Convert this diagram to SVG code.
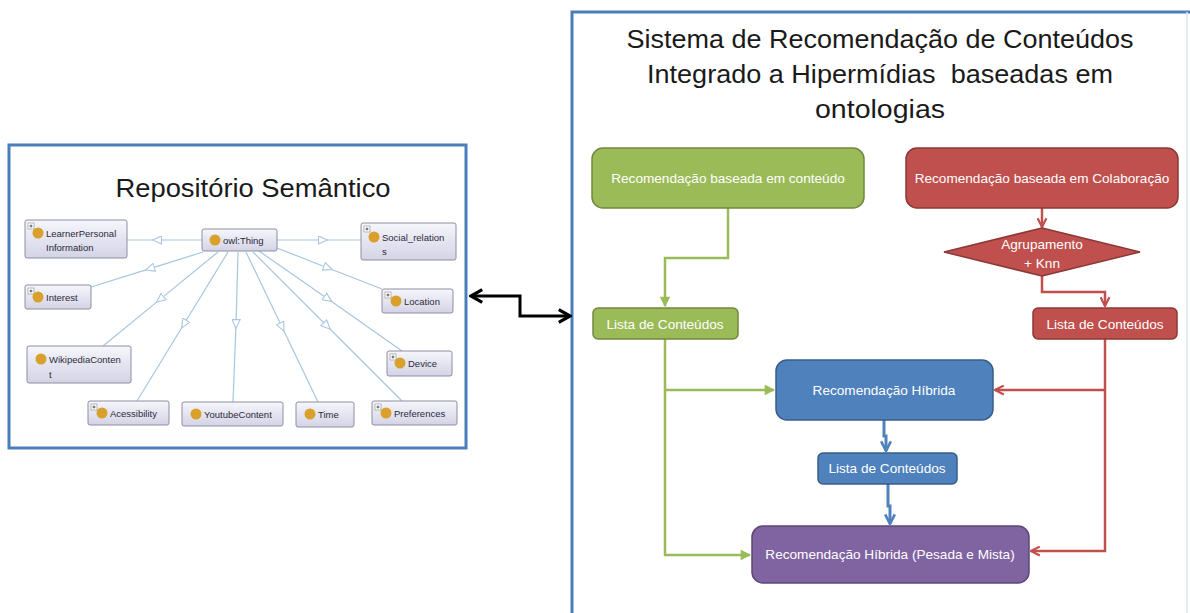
<svg xmlns="http://www.w3.org/2000/svg" width="1190" height="613" viewBox="0 0 1190 613">
  <style>
    .panel { fill: #ffffff; stroke: #4a7ebb; stroke-width: 3; }
    .title { font-family: "Liberation Sans", Arial, sans-serif; fill: #1a1a1a; white-space: pre; }
    .onode rect.box { fill: url(#nodeGrad); stroke: #8e8ea2; stroke-width: 1; }
    .onode text { font-family: "Liberation Sans", Arial, sans-serif; font-size: 9.5px; fill: #2a2a3a; }
    .dot { fill: #d9a12c; }
    .plus rect { fill: #ffffff; stroke: #8a8a8a; stroke-width: 0.6; }
    .plus path { stroke: #333; stroke-width: 0.8; }
    .oedge { fill: none; stroke: #a7c6e0; stroke-width: 1.2; marker-mid: url(#hollow); }
    .flow text { font-family: "Liberation Sans", Arial, sans-serif; font-size: 13.6px; fill: #ffffff; text-anchor: middle; }
    .g rect, .g path { fill: #9bbb59; stroke: #71893f; stroke-width: 1.5; }
    .r rect, .r path { fill: #c0504d; stroke: #8c3836; stroke-width: 1.5; }
    .b rect { fill: #4f81bd; stroke: #385d8a; stroke-width: 1.5; }
    .p rect { fill: #8064a2; stroke: #5c4776; stroke-width: 1.5; }
    .lg { fill: none; stroke: #9bbb59; stroke-width: 2.5; }
    .lr { fill: none; stroke: #c0504d; stroke-width: 2.5; }
    .lb { fill: none; stroke: #4f81bd; stroke-width: 3; }
    .lk { fill: none; stroke: #000000; stroke-width: 3; }
  </style>
  <defs>
    <linearGradient id="nodeGrad" x1="0" y1="0" x2="0" y2="1">
      <stop offset="0" stop-color="#f6f6fc"/>
      <stop offset="1" stop-color="#d3d3e6"/>
    </linearGradient>
    <marker id="hollow" viewBox="0 0 10 10" refX="5" refY="5" markerWidth="10" markerHeight="9" markerUnits="userSpaceOnUse" orient="auto">
      <path d="M0,0.5 L10,5 L0,9.5 z" fill="#ffffff" stroke="#a7c6e0" stroke-width="1.2"/>
    </marker>
    <marker id="aG" viewBox="0 0 10 10" refX="9" refY="5" markerWidth="11" markerHeight="11" markerUnits="userSpaceOnUse" orient="auto">
      <path d="M1,1 L9,5 L1,9 z" fill="#9bbb59" stroke="#9bbb59" stroke-width="1"/>
    </marker>
    <marker id="aR" viewBox="0 0 10 10" refX="9" refY="5" markerWidth="11" markerHeight="11" markerUnits="userSpaceOnUse" orient="auto">
      <path d="M1,1 L9,5 L1,9" fill="none" stroke="#c0504d" stroke-width="2"/>
    </marker>
    <marker id="aB" viewBox="0 0 10 10" refX="9" refY="5" markerWidth="12" markerHeight="12" markerUnits="userSpaceOnUse" orient="auto">
      <path d="M1,1 L9,5 L1,9" fill="none" stroke="#4f81bd" stroke-width="2.2"/>
    </marker>
    <marker id="aK" viewBox="0 0 10 10" refX="9" refY="5" markerWidth="16" markerHeight="16" markerUnits="userSpaceOnUse" orient="auto-start-reverse">
      <path d="M2,1 L9,5 L2,9" fill="none" stroke="#000000" stroke-width="2" stroke-linejoin="miter"/>
    </marker>
  </defs>

  <rect width="1190" height="613" fill="#ffffff"/>

  <!-- Left panel: semantic repository -->
  <g id="repositorio">
    <rect class="panel" x="9" y="145" width="457" height="303"/>
    <text class="title" x="253" y="197" font-size="25" text-anchor="middle" textLength="275" lengthAdjust="spacingAndGlyphs">Repositório Semântico</text>
  </g>

  <!-- Ontology edges -->
  <g id="ontology-edges">
    <path class="oedge" d="M202,240 L157,240 L127,240"/>
    <path class="oedge" d="M277,240 L323,240 L361,240"/>
    <path class="oedge" d="M203,252 L150,268.6 L91,287"/>
    <path class="oedge" d="M218,252 L160,299.4 L103,346"/>
    <path class="oedge" d="M228,252 L184,324 L137,401"/>
    <path class="oedge" d="M238,252 L236,324 L233,402"/>
    <path class="oedge" d="M246,252 L282,327 L318,402"/>
    <path class="oedge" d="M253,252 L327,326 L402,401"/>
    <path class="oedge" d="M259,251 L328,299 L402,351"/>
    <path class="oedge" d="M277,248 L328,268 L382,289"/>
  </g>

  <!-- Ontology classes -->
  <g id="owl-thing" class="onode">
    <rect class="box" x="202" y="229" width="75" height="22" rx="2"/>
    <circle class="dot" cx="215" cy="240" r="5.5"/>
    <text x="223" y="244">owl:Thing</text>
  </g>
  <g id="learner-personal-information" class="onode">
    <rect class="box" x="25" y="220" width="102" height="38" rx="2"/>
    <g class="plus"><rect x="28" y="223" width="6" height="6"/><path d="M29.5,226 H32.5 M31,224.5 V227.5"/></g>
    <circle class="dot" cx="38" cy="233" r="5.5"/>
    <text x="46" y="237">LearnerPersonal</text>
    <text x="46" y="251">Information</text>
  </g>
  <g id="interest" class="onode">
    <rect class="box" x="25" y="285" width="66" height="24" rx="2"/>
    <g class="plus"><rect x="28" y="288" width="6" height="6"/><path d="M29.5,291 H32.5 M31,289.5 V292.5"/></g>
    <circle class="dot" cx="38" cy="297" r="5.5"/>
    <text x="46" y="301">Interest</text>
  </g>
  <g id="wikipedia-content" class="onode">
    <rect class="box" x="27" y="346" width="104" height="37" rx="2"/>
    <circle class="dot" cx="41" cy="359" r="5.5"/>
    <text x="49" y="363">WikipediaConten</text>
    <text x="49" y="378">t</text>
  </g>
  <g id="acessibility" class="onode">
    <rect class="box" x="88" y="401" width="81" height="24" rx="2"/>
    <g class="plus"><rect x="91" y="404" width="6" height="6"/><path d="M92.5,407 H95.5 M94,405.5 V408.5"/></g>
    <circle class="dot" cx="102" cy="413" r="5.5"/>
    <text x="110" y="417">Acessibility</text>
  </g>
  <g id="youtube-content" class="onode">
    <rect class="box" x="182" y="402" width="101" height="24" rx="2"/>
    <circle class="dot" cx="196" cy="414" r="5.5"/>
    <text x="204" y="418">YoutubeContent</text>
  </g>
  <g id="time" class="onode">
    <rect class="box" x="296" y="402" width="58" height="25" rx="2"/>
    <circle class="dot" cx="310" cy="414" r="5.5"/>
    <text x="318" y="418">Time</text>
  </g>
  <g id="preferences" class="onode">
    <rect class="box" x="372" y="401" width="85" height="24" rx="2"/>
    <g class="plus"><rect x="375" y="404" width="6" height="6"/><path d="M376.5,407 H379.5 M378,405.5 V408.5"/></g>
    <circle class="dot" cx="386" cy="413" r="5.5"/>
    <text x="394" y="417">Preferences</text>
  </g>
  <g id="device" class="onode">
    <rect class="box" x="387" y="351" width="65" height="25" rx="2"/>
    <g class="plus"><rect x="390" y="354" width="6" height="6"/><path d="M391.5,357 H394.5 M393,355.5 V358.5"/></g>
    <circle class="dot" cx="400" cy="363" r="5.5"/>
    <text x="408" y="367">Device</text>
  </g>
  <g id="location" class="onode">
    <rect class="box" x="382" y="289" width="71" height="24" rx="2"/>
    <g class="plus"><rect x="385" y="292" width="6" height="6"/><path d="M386.5,295 H389.5 M388,293.5 V296.5"/></g>
    <circle class="dot" cx="396" cy="301" r="5.5"/>
    <text x="404" y="305">Location</text>
  </g>
  <g id="social-relations" class="onode">
    <rect class="box" x="361" y="223" width="95" height="37" rx="2"/>
    <g class="plus"><rect x="364" y="226" width="6" height="6"/><path d="M365.5,229 H368.5 M367,227.5 V230.5"/></g>
    <circle class="dot" cx="374" cy="237" r="5.5"/>
    <text x="382" y="241">Social_relation</text>
    <text x="382" y="255">s</text>
  </g>

  <!-- Right panel: recommendation system -->
  <g id="sistema">
    <rect class="panel" x="572" y="12" width="700" height="700"/>
    <line x1="1187" y1="12" x2="1187" y2="613" stroke="#dbe6f0" stroke-width="1.5"/>
    <text class="title" x="880" y="48" font-size="26" text-anchor="middle" textLength="507" lengthAdjust="spacingAndGlyphs">Sistema de Recomendação de Conteúdos</text>
    <text class="title" x="880" y="83" font-size="26" text-anchor="middle" textLength="466" lengthAdjust="spacingAndGlyphs">Integrado a Hipermídias  baseadas em</text>
    <text class="title" x="880" y="118" font-size="26" text-anchor="middle" textLength="130" lengthAdjust="spacingAndGlyphs">ontologias</text>
  </g>

  <!-- Connectors -->
  <g id="connectors">
    <path class="lk" d="M471,296 H520 V316 H570" marker-start="url(#aK)" marker-end="url(#aK)"/>
    <path class="lg" d="M728,208 V258 H665 V306" marker-end="url(#aG)"/>
    <path class="lg" d="M665,339 V555 H750" marker-end="url(#aG)"/>
    <path class="lg" d="M665,390 H774" marker-end="url(#aG)"/>
    <path class="lr" d="M1042,208 V227" marker-end="url(#aR)"/>
    <path class="lr" d="M1042,275 V292 H1105 V306" marker-end="url(#aR)"/>
    <path class="lr" d="M1105,339 V551 H1031" marker-end="url(#aR)"/>
    <path class="lr" d="M1105,390 H995" marker-end="url(#aR)"/>
    <path class="lb" d="M884,420 V436 H886 V451" marker-end="url(#aB)"/>
    <path class="lb" d="M888,484 V506 H890 V524" marker-end="url(#aB)"/>
  </g>

  <!-- Flow nodes -->
  <g id="rec-conteudo" class="flow g">
    <rect x="592" y="148" width="272" height="60" rx="11"/>
    <text x="728" y="183">Recomendação baseada em conteúdo</text>
  </g>
  <g id="lista-verde" class="flow g">
    <rect x="593" y="308" width="145" height="31" rx="5"/>
    <text x="665" y="329">Lista de Conteúdos</text>
  </g>
  <g id="rec-colaboracao" class="flow r">
    <rect x="906" y="148" width="272" height="60" rx="11"/>
    <text x="1042" y="183">Recomendação baseada em Colaboração</text>
  </g>
  <g id="agrupamento" class="flow r">
    <path d="M1042,228 L1140,252 L1042,276 L944,252 z"/>
    <text x="1042" y="249">Agrupamento</text>
    <text x="1042" y="268">+ Knn</text>
  </g>
  <g id="lista-vermelha" class="flow r">
    <rect x="1033" y="308" width="144" height="31" rx="5"/>
    <text x="1105" y="329">Lista de Conteúdos</text>
  </g>
  <g id="rec-hibrida" class="flow b">
    <rect x="776" y="360" width="217" height="60" rx="11"/>
    <text x="884" y="395">Recomendação Híbrida</text>
  </g>
  <g id="lista-azul" class="flow b">
    <rect x="818" y="453" width="139" height="31" rx="5"/>
    <text x="887" y="473">Lista de Conteúdos</text>
  </g>
  <g id="rec-hibrida-pesada-mista" class="flow p">
    <rect x="752" y="526" width="277" height="57" rx="11"/>
    <text x="890" y="559">Recomendação Híbrida (Pesada e Mista)</text>
  </g>
</svg>
